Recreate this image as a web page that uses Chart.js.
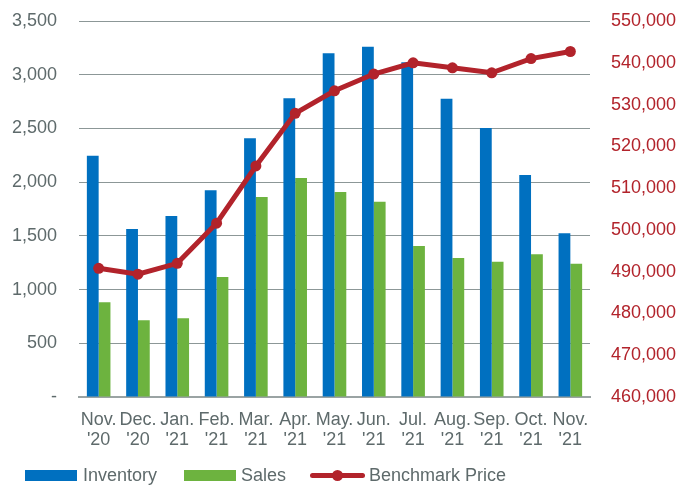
<!DOCTYPE html>
<html>
<head>
<meta charset="utf-8">
<script src="https://cdn.jsdelivr.net/npm/chart.js@4/dist/chart.umd.min.js"></script>
<style>
  html, body { margin: 0; padding: 0; background: #fff; }
  #wrap { position: relative; width: 681px; height: 487px; }
  #legend { position: absolute; left: 0; top: 463px; height: 24px; width: 681px;
    font-family: "Liberation Sans", Arial, sans-serif; font-size: 18px; color: #5E6A6B; }
  .box { position: absolute; top: 7px; width: 52px; height: 11px; }
  .lbl { position: absolute; top: 0; line-height: 24px; white-space: nowrap; }
</style>
</head>
<body>
<div id="wrap">
  <canvas id="c" width="681" height="487"></canvas>
  <div id="legend"></div>
</div>
<script>
const categories = [
  ["Nov.", "'20"], ["Dec.", "'20"], ["Jan.", "'21"], ["Feb.", "'21"], ["Mar.", "'21"],
  ["Apr.", "'21"], ["May.", "'21"], ["Jun.", "'21"], ["Jul.", "'21"], ["Aug.", "'21"],
  ["Sep.", "'21"], ["Oct.", "'21"], ["Nov.", "'21"]
];
const inventory = [2245, 1564, 1685, 1924, 2408, 2780, 3199, 3261, 3115, 2777, 2504, 2066, 1524];
const sales = [881, 714, 732, 1117, 1862, 2039, 1908, 1818, 1406, 1294, 1260, 1328, 1241];
const benchmarkPrice = [490800, 489400, 492000, 501600, 515300, 527900, 533300, 537300, 540000, 538800, 537600, 541000, 542700];
const leftTicks = [0, 500, 1000, 1500, 2000, 2500, 3000, 3500];
const rightTicks = [460000, 470000, 480000, 490000, 500000, 510000, 520000, 530000, 540000, 550000];
const seriesNames = ["Inventory", "Sales", "Benchmark Price"];

const BLUE = '#0070C0', GREEN = '#6DB33F', RED = '#B2232B', GREY = '#5E6A6B';
const FONT = { family: '"Liberation Sans", Arial, sans-serif', size: 18, lineHeight: 1.1 };

new Chart(document.getElementById('c'), {
  data: {
    labels: categories,
    datasets: [
      { type: 'line', label: seriesNames[2], data: benchmarkPrice, yAxisID: 'y1',
        borderColor: RED, backgroundColor: RED, borderWidth: 5, pointRadius: 5.5,
        pointHoverRadius: 5.5, pointBackgroundColor: RED, pointBorderWidth: 0,
        tension: 0, order: 0 },
      { type: 'bar', label: seriesNames[0], data: inventory, yAxisID: 'y',
        backgroundColor: BLUE, categoryPercentage: 0.6, barPercentage: 1.0, order: 1 },
      { type: 'bar', label: seriesNames[1], data: sales, yAxisID: 'y',
        backgroundColor: GREEN, categoryPercentage: 0.6, barPercentage: 1.0, order: 1 }
    ]
  },
  options: {
    responsive: false,
    animation: false,
    devicePixelRatio: 1,
    layout: { padding: { top: 21, left: 0, right: 0, bottom: 0 } },
    plugins: { legend: { display: false }, tooltip: { enabled: false } },
    scales: {
      x: {
        grid: { display: false, drawTicks: false },
        border: { display: true, color: '#9AA3A3', width: 2 },
        ticks: { color: GREY, font: FONT, padding: 13, maxRotation: 0, autoSkip: false },
        afterFit: s => { s.height = 90; }
      },
      y: {
        position: 'left', min: 0, max: 3500,
        afterBuildTicks: s => { s.ticks = leftTicks.map(v => ({ value: v })); },
        grid: { color: '#8C9797', lineWidth: 1, drawTicks: true, tickLength: 22, tickColor: 'rgba(0,0,0,0)' },
        border: { display: false },
        ticks: { color: GREY, font: FONT, padding: 0,
          callback: v => v === 0 ? '-' : v.toLocaleString('en-US') },
        afterFit: s => { s.width = 79; }
      },
      y1: {
        position: 'right', min: 460000, max: 550000,
        afterBuildTicks: s => { s.ticks = rightTicks.map(v => ({ value: v })); },
        grid: { display: true, drawOnChartArea: false, drawTicks: true, tickLength: 21, tickColor: 'rgba(0,0,0,0)' },
        border: { display: false },
        ticks: { color: RED, font: FONT, padding: 0,
          callback: v => v.toLocaleString('en-US') },
        afterFit: s => { s.width = 91; }
      }
    }
  }
});

// HTML legend
const legend = document.getElementById('legend');
const items = [
  { name: seriesNames[0], color: BLUE, kind: 'box', x: 25, tx: 83 },
  { name: seriesNames[1], color: GREEN, kind: 'box', x: 184, tx: 241 },
  { name: seriesNames[2], color: RED, kind: 'line', x: 310, tx: 369 }
];
items.forEach(it => {
  if (it.kind === 'box') {
    const b = document.createElement('div');
    b.className = 'box';
    b.style.left = it.x + 'px';
    b.style.background = it.color;
    legend.appendChild(b);
  } else {
    const l = document.createElement('div');
    l.style.cssText = `position:absolute;left:${it.x}px;top:10px;width:55px;height:5px;background:${it.color};border-radius:2.5px;`;
    legend.appendChild(l);
    const d = document.createElement('div');
    d.style.cssText = `position:absolute;left:${it.x + 22}px;top:7px;width:11px;height:11px;background:${it.color};border-radius:50%;`;
    legend.appendChild(d);
  }
  const t = document.createElement('div');
  t.className = 'lbl';
  t.style.left = it.tx + 'px';
  t.textContent = it.name;
  legend.appendChild(t);
});
</script>
</body>
</html>
